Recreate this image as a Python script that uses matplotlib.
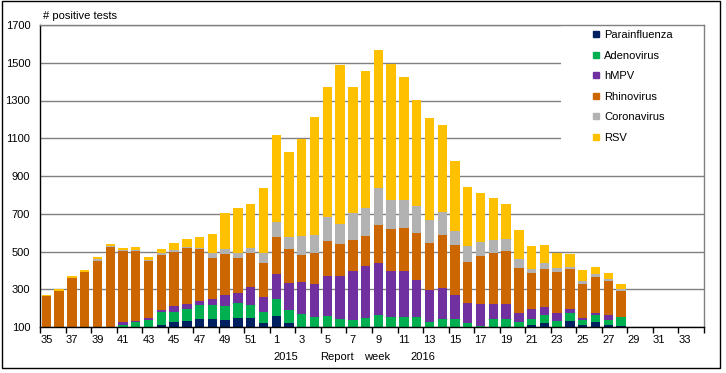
import numpy as np
import matplotlib
matplotlib.use("Agg")
import matplotlib.pyplot as plt
from matplotlib.patches import Rectangle
from matplotlib.lines import Line2D

plt.rcParams['font.family'] = ['Liberation Sans', 'DejaVu Sans']

# report weeks: 2015 wk 35..52, then 2016 wk 1..34
weeks = list(range(35, 53)) + list(range(1, 35))

parainfluenza = [0, 0, 0, 0, 0, 0, 0, 0, 0, 113, 124, 134, 145, 145, 139, 150, 147, 119,
                 156, 119, 0, 0, 0, 0, 0, 0, 0, 0, 0, 0, 0, 0, 0, 0, 0, 0, 0, 0,
                 109, 119, 0, 133, 112, 128, 112, 107, 0, 0, 0, 0, 0, 0]
adenovirus = [0, 0, 0, 0, 0, 0, 113, 124, 139, 68, 57, 63, 73, 73, 74, 79, 72, 58,
              92, 71, 167, 151, 156, 141, 135, 146, 162, 151, 151, 151, 125, 141, 141, 119, 106, 142, 144, 125,
              35, 43, 133, 39, 27, 37, 27, 44, 0, 0, 0, 0, 0, 0]
hmpv = [0, 0, 0, 0, 0, 0, 11, 10, 11, 11, 32, 26, 21, 32, 58, 53, 95, 84,
        131, 141, 170, 175, 212, 227, 260, 275, 275, 244, 244, 196, 169, 164, 127, 106, 116, 80, 76, 51,
        53, 45, 39, 25, 10, 7, 23, 4, 0, 0, 0, 0, 0, 0]
rhinovirus = [262, 289, 361, 393, 451, 525, 380, 370, 301, 291, 286, 297, 275, 217, 217, 185, 179, 180,
              196, 180, 142, 164, 186, 170, 164, 159, 201, 222, 227, 249, 249, 280, 264, 217, 254, 270, 285, 234,
              187, 201, 220, 211, 180, 194, 183, 137, 0, 0, 0, 0, 0, 0]
coronavirus = [0, 3, 0, 0, 10, 5, 5, 5, 5, 10, 10, 5, 6, 23, 26, 26, 28, 49,
               81, 64, 103, 95, 127, 107, 143, 150, 198, 155, 150, 145, 124, 124, 75, 87, 75, 70, 62, 48,
               24, 29, 23, 11, 16, 16, 10, 11, 0, 0, 0, 0, 0, 0]
rsv = [9, 7, 11, 10, 11, 11, 11, 16, 16, 21, 37, 42, 58, 101, 191, 238, 231, 344,
       459, 450, 512, 630, 693, 841, 667, 724, 729, 724, 650, 564, 538, 459, 370, 311, 259, 220, 185, 157,
       122, 98, 78, 69, 58, 37, 32, 26, 0, 0, 0, 0, 0, 0]

series = [
    ("Parainfluenza", parainfluenza, "#002060"),
    ("Adenovirus", adenovirus, "#00B050"),
    ("hMPV", hmpv, "#7030A0"),
    ("Rhinovirus", rhinovirus, "#CC6600"),
    ("Coronavirus", coronavirus, "#B2B2B2"),
    ("RSV", rsv, "#FFC000"),
]

W, H = 726, 373
fig = plt.figure(figsize=(W / 100, H / 100), dpi=100)
ax = fig.add_axes([40 / W, 46 / H, 664 / W, 302 / H])

x = np.arange(len(weeks))
bottom = np.zeros(len(weeks))
for name, vals, col in series:
    vals = np.array(vals, dtype=float)
    ax.bar(x, vals, bottom=bottom, width=0.74, color=col, linewidth=0, zorder=2)
    bottom += vals

ax.set_xlim(-0.5, len(weeks) - 0.5)
ax.set_ylim(100, 1700)
ax.set_yticks(np.arange(100, 1701, 200))
ax.yaxis.grid(True, color="#808080", lw=1.0)
ax.set_axisbelow(True)

ax.set_xticks(x[::2])
ax.set_xticklabels([str(w) for w in weeks[::2]])
ax.set_xticks(np.arange(-0.5, len(weeks), 2), minor=True)
ax.tick_params(axis="x", which="major", length=0, pad=6, labelsize=8)
ax.tick_params(axis="x", which="minor", length=4, width=1, direction="out", color="black")
ax.tick_params(axis="y", length=0, pad=7, labelsize=8)

ax.spines["left"].set_color("black")
ax.spines["bottom"].set_color("black")
ax.spines["top"].set_color("#808080")
ax.spines["right"].set_color("#808080")
for s in ax.spines.values():
    s.set_linewidth(1.0)

# legend box (white, covers gridlines)
ax.add_patch(Rectangle((0.785, 0.55), 0.215, 0.45, transform=ax.transAxes,
                       facecolor="white", edgecolor="none", zorder=1))
handles = [Line2D([], [], marker="s", linestyle="none", markersize=4.5,
                  markerfacecolor=col, markeredgecolor=col) for _, _, col in series]
labels = [name for name, _, _ in series]
ax.legend(handles, labels, loc="upper left", bbox_to_anchor=(592 / W, 1 - 30 / H),
          bbox_transform=fig.transFigure, frameon=False, fontsize=8,
          handlelength=0.8, handletextpad=0.3, labelspacing=0.95,
          borderpad=0, borderaxespad=0)

fig.text(43 / W, 1 - 16 / H, "# positive tests", ha="left", va="center", fontsize=8)
fig.text(286 / W, 1 - 357 / H, "2015", ha="center", va="center", fontsize=8)
fig.text(337 / W, 1 - 357 / H, "Report", ha="center", va="center", fontsize=8)
fig.text(377 / W, 1 - 357 / H, "week", ha="center", va="center", fontsize=8)
fig.text(423 / W, 1 - 357 / H, "2016", ha="center", va="center", fontsize=8)

# outer chart frame
fig.patches.append(Rectangle((2 / W, 5 / H), 718 / W, 367 / H, transform=fig.transFigure,
                             facecolor="none", edgecolor="black", lw=1.0))

fig.savefig("out.png", dpi=100)
